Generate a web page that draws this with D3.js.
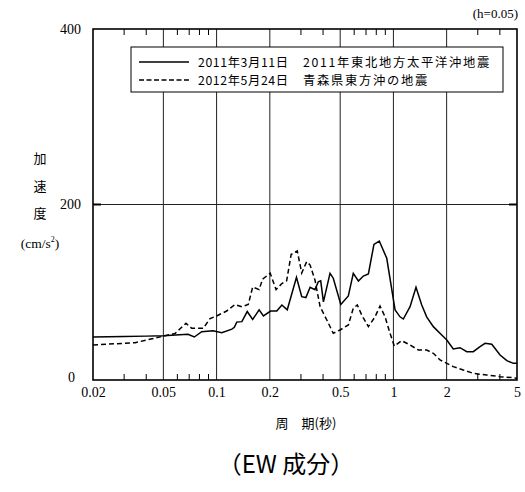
<!DOCTYPE html>
<html><head><meta charset="utf-8">
<script src="https://cdn.jsdelivr.net/npm/d3@7"></script>
<style>
body{margin:0;background:#fff;}
svg{display:block;}
text{fill:#000;}
.sf{font-family:"Liberation Serif","Times New Roman","DejaVu Serif",serif;}
</style></head>
<body>
<svg id="c" width="525" height="492"></svg>
<script>
// ---- data ----
const majorTicks = [0.02, 0.05, 0.1, 0.2, 0.5, 1, 2, 5];
const gridPeriods = [0.05, 0.1, 0.2, 0.5, 1, 2];
const minorTicks = [0.03, 0.04, 0.06, 0.07, 0.08, 0.09, 0.3, 0.4, 0.6, 0.7, 0.8, 0.9, 3, 4];
const yTicks = [0, 200, 400];

const period2011 = [0.02,0.03,0.04,0.05,0.0689,0.0748,0.0824,0.0954,0.107,0.122,0.126,0.130,0.139,0.149,0.160,0.174,0.184,0.202,0.219,0.234,0.251,0.283,0.303,0.320,0.338,0.360,0.376,0.388,0.402,0.438,0.457,0.504,0.556,0.593,0.634,0.676,0.722,0.776,0.832,0.917,1.022,1.09,1.138,1.242,1.342,1.446,1.542,1.682,1.876,2.004,2.18,2.38,2.60,2.83,3.09,3.30,3.60,4.01,4.38,4.77,5.0];
const acc2011 = [49,49.5,50,50.5,52,49,55,56,54,58,60,66,66.5,78,69,80,73,78.6,78.6,85.5,80,117,95,94,105.6,103,112,113,89,121.6,116,86,95.7,121.6,112.8,118.5,120.8,154.6,158.4,138.7,79.8,72,69.5,83.5,105.6,85.5,72,60.8,51.3,45.6,35.3,36.8,32.3,32.3,38,41.8,40.7,28.5,22,19,19];

const period2012 = [0.02,0.0346,0.05,0.0582,0.0671,0.0723,0.0841,0.0918,0.100,0.114,0.127,0.139,0.151,0.160,0.174,0.182,0.201,0.217,0.234,0.249,0.264,0.286,0.303,0.323,0.338,0.360,0.385,0.420,0.457,0.499,0.556,0.593,0.625,0.662,0.722,0.787,0.840,0.897,0.957,1.012,1.114,1.242,1.384,1.542,1.682,1.836,2.004,2.18,2.48,2.83,3.37,4.01,4.77,5.0];
const acc2012 = [40,42.5,50,53,64.6,59,59,70,73,78.6,86,83.5,86,106,103,115,121.6,103,110,113,143,147,122,134.8,131,114,83.5,68.4,53.2,57,62.7,81.7,85.5,74,60.8,72,84.3,72,53.2,38.7,44.8,39.9,34.2,34.2,30.4,22.8,19,15.2,11.4,7.6,5.7,3.8,2.6,1.9];

const seriesNames = ["2011年3月11日", "2012年5月24日"];
const eventNames = ["2011年東北地方太平洋沖地震", "青森県東方沖の地震"];

// ---- chart ----
const svg = d3.select("#c");
const L = 93, R = 517, T = 29, B = 380;
const x = d3.scaleLog().domain([0.02, 5]).range([L, R]);
const y = d3.scaleLinear().domain([0, 400]).range([B, T]);
const cjk = "'Noto Sans CJK JP',sans-serif";

// gridlines
svg.append("g").selectAll("line").data(gridPeriods).join("line")
  .attr("x1", d => x(d)).attr("x2", d => x(d)).attr("y1", T).attr("y2", B)
  .attr("stroke", "#222").attr("stroke-width", 1);
svg.append("line").attr("x1", L).attr("x2", R).attr("y1", y(200)).attr("y2", y(200))
  .attr("stroke", "#222").attr("stroke-width", 1);
// y ticks (inward, both sides)
svg.append("g").selectAll("line").data([200]).join("line")
  .attr("x1", L).attr("x2", L + 8).attr("y1", d => y(d)).attr("y2", d => y(d))
  .attr("stroke", "#000").attr("stroke-width", 2);
svg.append("g").selectAll("line").data([200]).join("line")
  .attr("x1", R - 8).attr("x2", R).attr("y1", d => y(d)).attr("y2", d => y(d))
  .attr("stroke", "#000").attr("stroke-width", 2);
// minor ticks bottom & top
svg.append("g").selectAll("line").data(minorTicks).join("line")
  .attr("x1", d => x(d)).attr("x2", d => x(d)).attr("y1", B).attr("y2", B - 6)
  .attr("stroke", "#000").attr("stroke-width", 1);
svg.append("g").selectAll("line").data(minorTicks).join("line")
  .attr("x1", d => x(d)).attr("x2", d => x(d)).attr("y1", T).attr("y2", T + 6)
  .attr("stroke", "#000").attr("stroke-width", 1);

// curves
const line = d3.line().x(d => x(d[0])).y(d => y(d[1]));
svg.append("path").datum(d3.zip(period2012, acc2012)).attr("d", line)
  .attr("fill", "none").attr("stroke", "#000").attr("stroke-width", 1.5)
  .attr("stroke-dasharray", "5,3");
svg.append("path").datum(d3.zip(period2011, acc2011)).attr("d", line)
  .attr("fill", "none").attr("stroke", "#000").attr("stroke-width", 1.5);

// frame
svg.append("rect").attr("x", L).attr("y", T).attr("width", R - L).attr("height", B - T)
  .attr("fill", "none").attr("stroke", "#000").attr("stroke-width", 1.6);

// x axis labels
const xAxis = d3.axisBottom(x).tickValues(majorTicks).tickSize(0).tickPadding(7)
  .tickFormat(d => String(d));
const gx = svg.append("g").attr("transform", `translate(0,${B})`).call(xAxis)
  .attr("font-family", null).attr("class", "sf");
gx.select(".domain").remove();
gx.selectAll("text").attr("class", "sf").attr("font-size", 14).attr("fill", "#000");

// y axis labels
const yAxis = d3.axisLeft(y).tickValues(yTicks).tickSize(0).tickPadding(12);
const gy = svg.append("g").attr("transform", `translate(${L},0)`).call(yAxis)
  .attr("font-family", null).attr("class", "sf");
gy.select(".domain").remove();
gy.selectAll("text").attr("class", "sf").attr("font-size", 14).attr("fill", "#000");
gy.selectAll(".tick").filter(d => d === 0).select("text").attr("dx", -6).attr("dy", "0.1em");

// y title
const yTitle = ["加", "速", "度"];
svg.append("g").selectAll("text").data(yTitle).join("text")
  .attr("x", 40).attr("y", (d, i) => 163 + i * 27.5).attr("text-anchor", "middle")
  .attr("font-family", cjk).attr("font-size", 13).text(d => d);
const cm = svg.append("text").attr("class", "sf").attr("x", 40).attr("y", 248).attr("text-anchor", "middle")
  .attr("font-size", 13.5);
cm.append("tspan").text("(cm/s");
cm.append("tspan").attr("font-size", 8).attr("dy", -6).text("2");
cm.append("tspan").attr("dy", 6).text(")");

// x title
svg.append("text").attr("x", 306).attr("y", 428).attr("text-anchor", "middle")
  .attr("font-family", cjk).attr("font-size", 13).text("周　期(秒)");

// h=0.05
svg.append("text").attr("class", "sf").attr("x", 518).attr("y", 18).attr("text-anchor", "end")
  .attr("font-size", 13).text("(h=0.05)");

// main title
svg.append("text").attr("x", 286).attr("y", 473).attr("text-anchor", "middle")
  .attr("font-family", cjk).attr("font-size", 24).text("（EW 成分）");

// legend
const lg = svg.append("g");
lg.append("rect").attr("x", 131).attr("y", 47).attr("width", 372).attr("height", 45)
  .attr("fill", "#fff").attr("stroke", "#000").attr("stroke-width", 1);
const rows = [0, 1];
lg.selectAll("line.s").data(rows).join("line").attr("class", "s")
  .attr("x1", 139).attr("x2", 189).attr("y1", d => 62 + d * 18).attr("y2", d => 62 + d * 18)
  .attr("stroke", "#000").attr("stroke-width", 1.5)
  .attr("stroke-dasharray", d => d === 1 ? "5,2.5" : null);
lg.selectAll("text.a").data(rows).join("text").attr("class", "a")
  .attr("x", 198).attr("y", d => 66.5 + d * 18).attr("font-family", cjk).attr("font-size", 12.3)
  .attr("letter-spacing", 0.6)
  .text(d => seriesNames[d]);
lg.selectAll("text.b").data(rows).join("text").attr("class", "b")
  .attr("x", 303).attr("y", d => 66.5 + d * 18).attr("font-family", cjk).attr("font-size", 12.3)
  .attr("letter-spacing", 1.7)
  .text(d => eventNames[d]);
</script>
</body></html>
